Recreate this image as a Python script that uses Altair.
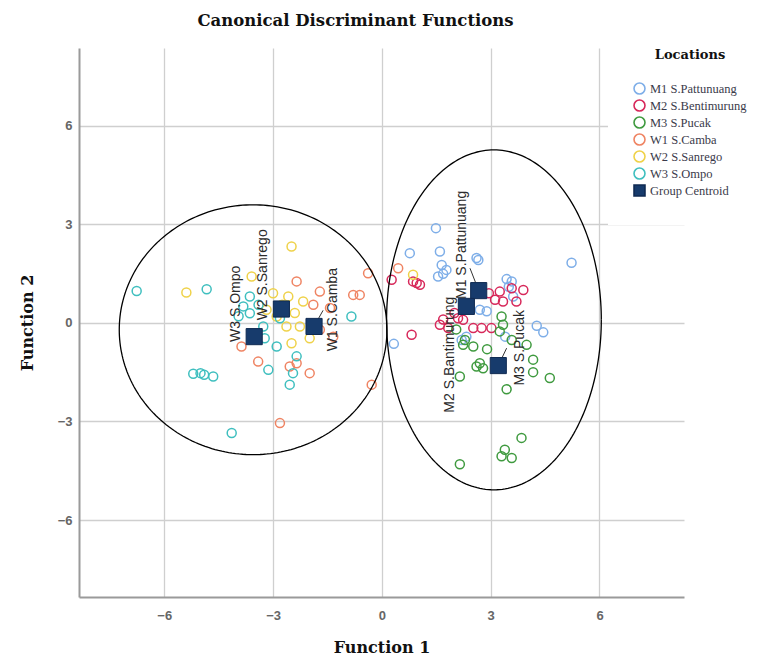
import altair as alt
import pandas as pd
import numpy as np

# ---------------- data ----------------
groups = ["M1 S.Pattunuang", "M2 S.Bentimurung", "M3 S.Pucak",
          "W1 S.Camba", "W2 S.Sanrego", "W3 S.Ompo", "Group Centroid"]
stroke_colors = ["#7eaee8", "#d7285a", "#3f9a3f", "#ef8463", "#efd24a", "#3fbfbf", "#0f2a52"]
fill_colors = ["transparent"] * 6 + ["#173b6c"]
shapes = ["circle"] * 6 + ["square"]

m1_x = [1.49, 0.77, 1.60, 1.65, 1.55, 1.69, 2.61, 2.66, 5.23, 3.44, 3.58, 3.62, 4.27, 4.45, 0.33, 2.70, 2.89, 3.40, 2.20, 2.33, 3.50, 1.78]
m1_y = [2.88, 2.12, 2.17, 1.76, 1.41, 1.49, 1.97, 1.91, 1.83, 1.33, 1.26, 0.80, -0.09, -0.29, -0.64, 0.40, 0.35, -0.42, -0.52, -0.42, 1.10, 1.61]

m2_x = [0.27, 0.86, 1.05, 0.96, 0.82, 1.60, 1.83, 1.69, 2.24, 2.10, 2.52, 2.75, 3.02, 3.25, 3.58, 3.90, 3.12, 3.34, 3.71, 2.95, 2.00]
m2_y = [1.31, 1.26, 1.16, 1.21, -0.36, -0.06, -0.16, 0.10, 0.09, 0.14, -0.16, -0.16, -0.16, 0.95, 1.05, 1.00, 0.70, 0.65, 0.65, 0.90, 0.30]

m3_x = [2.29, 2.52, 2.24, 2.70, 2.79, 2.61, 2.15, 3.30, 3.34, 3.25, 3.58, 3.99, 4.17, 4.17, 4.63, 3.44, 3.85, 3.39, 3.58, 3.30, 2.15, 2.05, 2.90]
m3_y = [-0.52, -0.72, -0.67, -1.23, -1.38, -1.33, -1.63, 0.19, -0.06, -0.26, -0.52, -0.67, -1.12, -1.50, -1.68, -2.02, -3.50, -3.86, -4.11, -4.06, -4.30, -0.20, -0.80]

w1_x = [-0.38, -0.79, -0.61, -1.71, -1.89, -1.43, -1.34, -1.71, -0.28, -2.81, -3.41, -2.54, -2.35, -1.99, -3.87, -2.35, 0.45]
w1_y = [1.51, 0.85, 0.85, 0.95, 0.55, 0.45, -0.42, -0.21, -1.88, -3.05, -1.18, -1.33, -1.23, -1.53, -0.72, 1.26, 1.66]

w2_x = [-5.39, -2.49, -3.59, -2.58, -2.17, -2.63, -2.26, -2.49, -3.18, -2.90, -1.99, -2.75, -2.40, 0.86, -3.00]
w2_y = [0.92, 2.32, 1.41, 0.80, 0.65, -0.11, -0.11, -0.62, 0.40, 0.19, -0.47, 0.55, 0.30, 1.46, 0.90]

w3_x = [-6.76, -4.83, -5.20, -5.00, -4.90, -4.65, -4.14, -3.64, -3.82, -3.64, -3.27, -3.23, -2.90, -2.81, -2.35, -2.45, -2.54, -3.13, -0.84, -3.40, -3.95]
w3_y = [0.97, 1.02, -1.55, -1.53, -1.58, -1.63, -3.35, 0.80, 0.50, 0.29, -0.11, -0.47, -0.72, 0.14, -1.02, -1.53, -1.88, -1.43, 0.19, 0.55, 0.20]

centroid_x = [2.67, 2.33, 3.21, -1.87, -2.77, -3.52]
centroid_y = [0.98, 0.50, -1.30, -0.11, 0.42, -0.42]

label_text = ["M1 S.Pattunuang", "M2 S.Bantimurung", "M3 S.Pucak", "W1 S.Camba", "W2 S.Sanrego", "W3 S.Ompo"]
label_x = [2.20, 1.87, 3.80, -1.34, -3.27, -4.03]
label_y = [2.37, -0.97, -0.76, 0.40, 1.46, 0.58]

# leader lines (centroid -> label)
lead_x1 = [2.67, -1.87, 3.21]
lead_y1 = [0.98, -0.11, -1.30]
lead_x2 = [2.43, -1.62, 3.44]
lead_y2 = [1.66, 0.38, -0.77]

# territory ellipses
ell_cx = [-3.55, 3.09]
ell_cy = [-0.21, 0.09]
ell_rx = [3.69, 2.96]
ell_ry = [3.80, 5.17]

tick_vals = [-6, -3, 0, 3, 6]

# ---------------- tables ----------------
pts = pd.concat([
    pd.DataFrame({"x": xs, "y": ys, "Locations": g})
    for xs, ys, g in [(m1_x, m1_y, groups[0]), (m2_x, m2_y, groups[1]), (m3_x, m3_y, groups[2]),
                      (w1_x, w1_y, groups[3]), (w2_x, w2_y, groups[4]), (w3_x, w3_y, groups[5])]
], ignore_index=True)

cen = pd.DataFrame({"x": centroid_x, "y": centroid_y, "Locations": "Group Centroid"})
labels = pd.DataFrame({"x": label_x, "y": label_y, "t": label_text})
leads = pd.DataFrame({"x": lead_x1, "y": lead_y1, "x2": lead_x2, "y2": lead_y2})

t = np.linspace(0, 2 * np.pi, 241)
ell = pd.concat([
    pd.DataFrame({"x": cx + rx * np.cos(t), "y": cy + ry * np.sin(t), "e": i, "k": np.arange(len(t))})
    for i, (cx, cy, rx, ry) in enumerate(zip(ell_cx, ell_cy, ell_rx, ell_ry))
], ignore_index=True)

# ---------------- chart ----------------
xs = alt.Scale(domain=[-8.35, 8.33], nice=False, zero=False)
ys = alt.Scale(domain=[-8.34, 8.36], nice=False, zero=False)

x_axis = alt.Axis(values=tick_vals, title="Function 1", grid=True, ticks=False,
                  labelPadding=12, titleY=50, titleBaseline="middle")
y_axis = alt.Axis(values=tick_vals, title="Function 2", grid=True, ticks=False,
                  labelPadding=7, titleX=-52, titleBaseline="middle", titleAngle=270)

leg = alt.Legend(orient="none", legendX=529, legendY=-24, padding=25, fillColor="white",
                 title="Locations", titleFont="DejaVu Serif", titleFontSize=13, titleFontWeight="bold",
                 titleColor="#111111", titleAnchor="middle", titlePadding=20,
                 labelFont="Liberation Serif", labelFontSize=12.5, labelColor="#3a3a4a",
                 symbolSize=120, symbolStrokeWidth=1.6, rowPadding=-2, labelOffset=4, labelLimit=200)

stroke_enc = alt.Stroke("Locations:N", scale=alt.Scale(domain=groups, range=stroke_colors), legend=leg)
fill_enc = alt.Fill("Locations:N", scale=alt.Scale(domain=groups, range=fill_colors), legend=leg)
shape_enc = alt.Shape("Locations:N", scale=alt.Scale(domain=groups, range=shapes), legend=leg)

points = alt.Chart(pts).mark_point(filled=True, size=81, strokeWidth=1.5, opacity=1).encode(
    x=alt.X("x:Q", scale=xs, axis=x_axis),
    y=alt.Y("y:Q", scale=ys, axis=y_axis),
    stroke=stroke_enc, fill=fill_enc, shape=shape_enc,
)

ellipses = alt.Chart(ell).mark_line(color="black", strokeWidth=1.3).encode(
    x=alt.X("x:Q", scale=xs), y=alt.Y("y:Q", scale=ys),
    detail="e:N", order="k:Q",
)

lead_rules = alt.Chart(leads).mark_rule(color="#333333", strokeWidth=1).encode(
    x=alt.X("x:Q", scale=xs), y=alt.Y("y:Q", scale=ys), x2="x2:Q", y2="y2:Q",
)

centroids = alt.Chart(cen).mark_point(filled=True, size=260, strokeWidth=1, opacity=1).encode(
    x=alt.X("x:Q", scale=xs), y=alt.Y("y:Q", scale=ys),
    stroke=stroke_enc, fill=fill_enc, shape=shape_enc,
)

texts = alt.Chart(labels).mark_text(angle=270, font="Liberation Sans", fontSize=14,
                                    color="#2b2b2b", align="center", baseline="middle").encode(
    x=alt.X("x:Q", scale=xs), y=alt.Y("y:Q", scale=ys), text="t:N",
)

chart = alt.layer(points, ellipses, lead_rules, centroids, texts).properties(
    width=605, height=549,
    autosize=alt.AutoSizeParams(type="none"),
    padding={"left": 71, "top": 40, "right": 71, "bottom": 59},
    background="white",
    title=alt.TitleParams("Canonical Discriminant Functions", font="DejaVu Serif", fontSize=16.5,
                          fontWeight="bold", color="#111111", anchor="middle", dx=-26, offset=-5,
                          frame="group"),
).configure_view(stroke=None).configure_axis(
    gridColor="#cfcfcf", gridWidth=1.3, domainColor="#9a9a9a", domainWidth=2,
    labelFont="Liberation Sans", labelFontSize=13, labelFontWeight="bold", labelColor="#666666",
    titleFont="DejaVu Serif", titleFontSize=16, titleFontWeight="bold", titleColor="#111111",
)

chart.save("out.html", embed_options={"renderer": "svg", "actions": False})
